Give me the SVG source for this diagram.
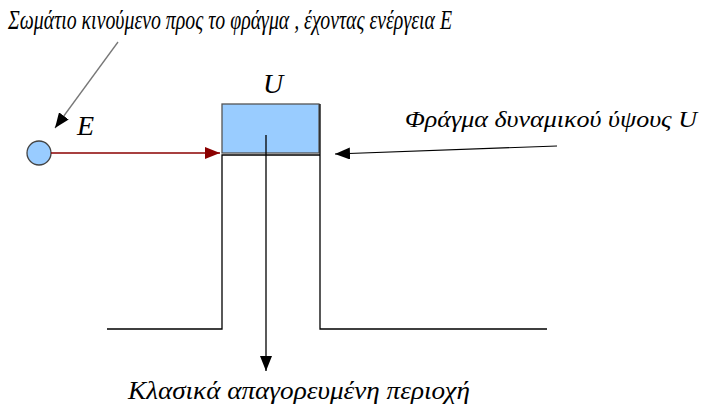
<svg xmlns="http://www.w3.org/2000/svg" width="712" height="409" viewBox="0 0 712 409">
<style>
text{font-family:"Liberation Serif","DejaVu Serif",serif;font-style:italic;fill:#000}
.ln{stroke:#000;stroke-width:1.3;fill:none}
</style>
<defs>
<marker id="ab" markerWidth="16" markerHeight="12" refX="15" refY="6" orient="auto" markerUnits="userSpaceOnUse"><path d="M0,0 L15,6 L0,12 z" fill="#000"/></marker>
<marker id="ar" markerWidth="16" markerHeight="12" refX="15" refY="6" orient="auto" markerUnits="userSpaceOnUse"><path d="M0,0 L15,6 L0,12 z" fill="#8b0000"/></marker>
</defs>
<rect width="712" height="409" fill="#fff"/>
<g id="barrier">
<rect x="222" y="104" width="97" height="49" fill="#99ccff" stroke="#555" stroke-width="1.3"/>
<path class="ln" d="M107,329 H222 V155 H320 V104 M320,155 V329 H547"/>
</g>
<g id="particle">
<circle cx="39" cy="153" r="12" fill="#99ccff" stroke="#444" stroke-width="1.3"/>
</g>
<g id="connectors">
<line x1="51" y1="153" x2="220" y2="153" stroke="#8b0000" stroke-width="1.3" marker-end="url(#ar)"/>
<line x1="118" y1="42" x2="55" y2="128" stroke="#777" stroke-width="1.3" marker-end="url(#ab)"/>
<line x1="557" y1="146" x2="335" y2="154" stroke="#000" stroke-width="1.2" marker-end="url(#ab)"/>
<line x1="266" y1="135" x2="266" y2="371" stroke="#000" stroke-width="1.3" marker-end="url(#ab)"/>
</g>
<g id="labels">
<text x="8" y="29" font-size="27" textLength="444" lengthAdjust="spacingAndGlyphs">Σωμάτιο κινούμενο προς το φράγμα , έχοντας ενέργεια E</text>
<text x="77" y="135" font-size="28">E</text>
<text x="263" y="93" font-size="28">U</text>
<text x="405" y="127" font-size="24" textLength="292" lengthAdjust="spacingAndGlyphs">Φράγμα δυναμικού ύψους U</text>
<text x="128" y="399" font-size="25" textLength="342" lengthAdjust="spacingAndGlyphs">Κλασικά απαγορευμένη περιοχή</text>
</g>
</svg>
